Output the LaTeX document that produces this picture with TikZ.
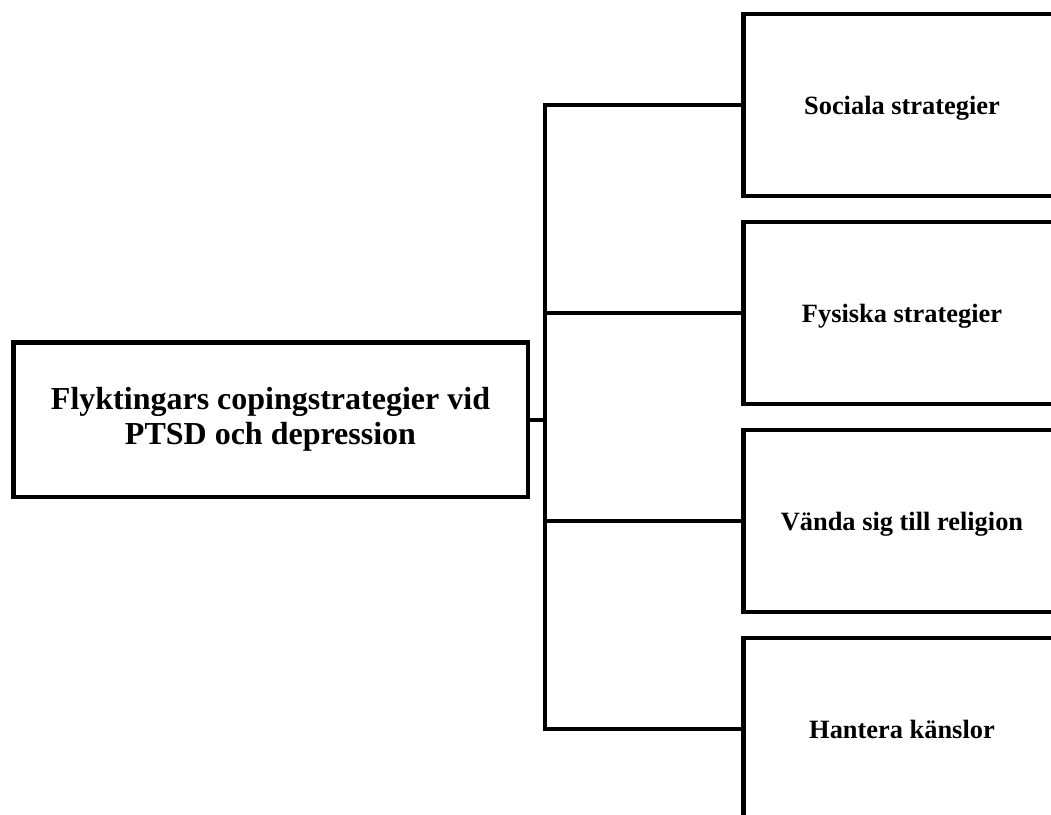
\documentclass[tikz,border=0pt]{standalone}
\usepackage{fontspec}
\setmainfont{Liberation Serif}
\usetikzlibrary{positioning}

\begin{document}
\begin{tikzpicture}[
    x=0.75pt, y=-0.75pt,
    node distance=16pt,
    mainbox/.style={rectangle, draw=black, line width=3.5pt, minimum width=386pt, minimum height=116pt, align=center, font=\fontsize{24}{26.5}\selectfont\bfseries},
    subbox/.style={rectangle, draw=black, line width=3.5pt, minimum width=238pt, minimum height=136.5pt, text depth=-3pt, font=\fontsize{19.8}{22}\selectfont\bfseries},
    link/.style={draw=black, line width=3pt, line cap=rect},
    ]
    \useasboundingbox (0,0) rectangle (1051,815);

    \node[mainbox]  (main)  at (270.5,419.5)        {Flyktingars copingstrategier vid\\PTSD och depression};

    \node[subbox]   (sub1)  at (902,105)            {Sociala strategier};
    \node[subbox]   (sub2)  [below=of sub1]         {Fysiska strategier};
    \node[subbox]   (sub3)  [below=of sub2]         {Vända sig till religion};
    \node[subbox]   (sub4)  [below=of sub3]         {Hantera känslor};

    \coordinate     (trunk) at (545,0);

    \draw[link] (sub1.west -| trunk) -- (sub4.west -| trunk);
    \draw[link] (main.east) -- (main.east -| trunk);
    \foreach \i in {1,...,4}
        \draw[link] (sub\i.west -| trunk) -- (sub\i.west);

\end{tikzpicture}
\end{document}
